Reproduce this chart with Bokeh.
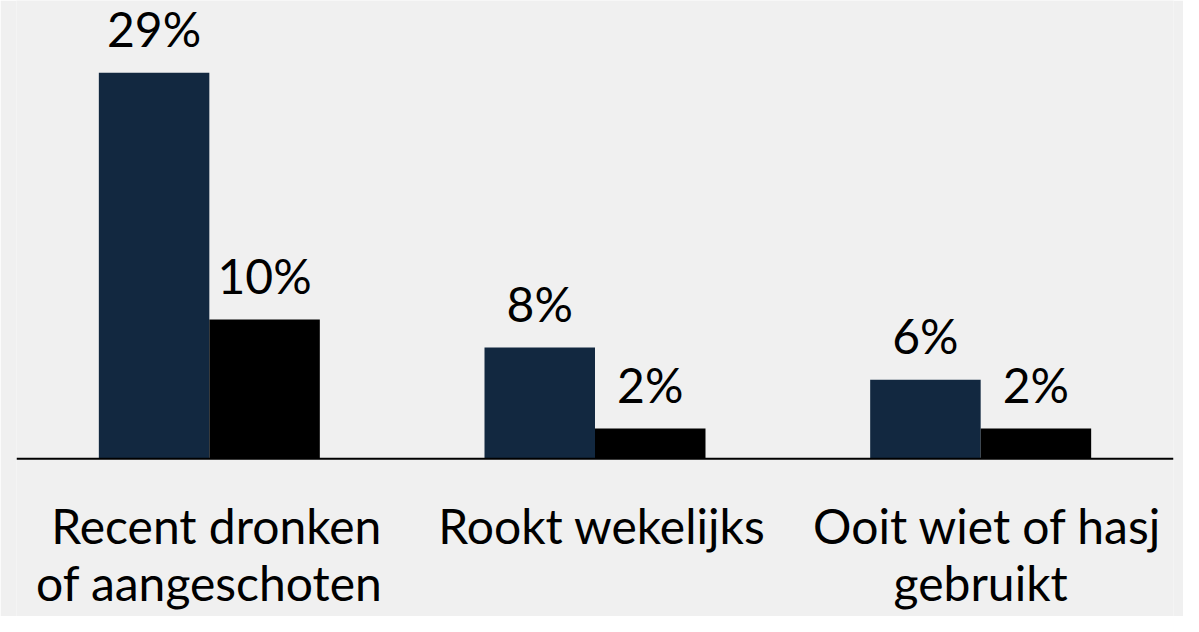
from bokeh.plotting import figure
from bokeh.models import ColumnDataSource, FactorRange, Range1d, Span
from bokeh.transform import dodge
from bokeh.core.properties import value
from bokeh.embed import file_html
from bokeh.resources import INLINE

# ---- data ----
categories = ["Recent dronken\nof aangeschoten", "Rookt wekelijks", "Ooit wiet of hasj\ngebruikt"]
series_a = [29.0, 8.35, 5.93]     # dark navy bars
series_b = [10.45, 2.27, 2.27]    # black bars
label_a = ["29%", "8%", "6%"]
label_b = ["10%", "2%", "2%"]

BG = "#f0f0f0"
NAVY = "#122840"
BLACK = "#000000"
FONT = "Lato"
FS = "48px"

line1 = [c.split("\n")[0] for c in categories]
line2 = [c.split("\n")[1] if "\n" in c else "" for c in categories]

src = ColumnDataSource(dict(cat=categories, a=series_a, b=series_b,
                            la=label_a, lb=label_b, l1=line1, l2=line2))

W, H = 1183, 616
p = figure(width=W, height=H, output_backend="svg", toolbar_location=None,
           x_range=FactorRange(*categories, range_padding=0),
           y_range=Range1d(-11.86, 34.42),
           min_border_left=16, min_border_right=10, min_border_top=0, min_border_bottom=0)
p.background_fill_color = BG
p.border_fill_color = BG
p.outline_line_color = None
p.xgrid.visible = False
p.ygrid.visible = False
p.xaxis.visible = False
p.yaxis.visible = False

bw = 0.2865
p.vbar(x=dodge("cat", -bw / 2, range=p.x_range), top="a", bottom=0, width=bw,
       source=src, fill_color=NAVY, line_color=None)
p.vbar(x=dodge("cat", bw / 2, range=p.x_range), top="b", bottom=0, width=bw,
       source=src, fill_color=BLACK, line_color=None)

p.add_layout(Span(location=0, dimension="width", line_color="#000000", line_width=2))

common = dict(text_align="center", text_baseline="alphabetic",
              text_font=value(FONT), text_font_size=FS, text_color="#000000")
p.text(x=dodge("cat", -bw / 2, range=p.x_range), y="a", text="la", source=src,
       y_offset=-44, **common)
p.text(x=dodge("cat", bw / 2, range=p.x_range), y="b", text="lb", source=src,
       y_offset=-44, **common)

p.text(x=dodge("cat", 0.018, range=p.x_range), y=0, text="l1", source=src,
       y_offset=67, **common)
p.text(x="cat", y=0, text="l2", source=src,
       y_offset=124, **common)

open("out.html", "w").write(file_html(p, INLINE))
